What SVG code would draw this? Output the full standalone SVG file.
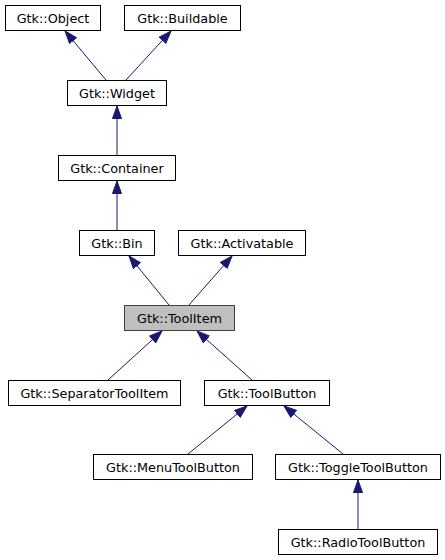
<svg xmlns="http://www.w3.org/2000/svg" width="445" height="560" viewBox="0 0 445 560">
<style>
.n rect{fill:#ffffff;stroke:#000000;stroke-width:1}
.n.cur rect{fill:#bfbfbf;stroke:#404040}
.n text{font-family:"DejaVu Sans",sans-serif;font-size:12.8px;text-anchor:middle;fill:#000000}
.e line{stroke:#191970;stroke-width:1;fill:none;marker-end:url(#ah)}
</style>
<defs>
<marker id="ah" markerUnits="userSpaceOnUse" markerWidth="14" markerHeight="11" refX="13" refY="5.5" orient="auto">
<path d="M0.5,1 L13,5.5 L0.5,10 z" fill="#191970" stroke="#191970" stroke-width="1"/>
</marker>
</defs>
<rect width="445" height="560" fill="#ffffff"/>
<g id="edges" class="e">
<line x1="106" y1="80" x2="65" y2="31"/>
<line x1="126" y1="80" x2="171" y2="31"/>
<line x1="117" y1="155" x2="117" y2="106"/>
<line x1="117" y1="230" x2="117" y2="181"/>
<line x1="169" y1="305" x2="129" y2="256"/>
<line x1="189" y1="305" x2="232" y2="256"/>
<line x1="108" y1="380" x2="162" y2="331"/>
<line x1="252" y1="380" x2="197" y2="331"/>
<line x1="188" y1="454" x2="247" y2="406"/>
<line x1="343" y1="454" x2="284" y2="406"/>
<line x1="358" y1="529" x2="358" y2="480"/>
</g>
<g id="node-object" class="n"><rect x="5.5" y="5.5" width="95" height="25"/><text x="53" y="22.5">Gtk::Object</text></g>
<g id="node-buildable" class="n"><rect x="124.5" y="5.5" width="116" height="25"/><text x="182.5" y="22.5">Gtk::Buildable</text></g>
<g id="node-widget" class="n"><rect x="67.5" y="80.5" width="99" height="25"/><text x="117" y="97.5">Gtk::Widget</text></g>
<g id="node-container" class="n"><rect x="58.5" y="155.5" width="117" height="25"/><text x="117" y="172.5">Gtk::Container</text></g>
<g id="node-bin" class="n"><rect x="79.5" y="230.5" width="75" height="25"/><text x="117" y="247.5">Gtk::Bin</text></g>
<g id="node-activatable" class="n"><rect x="178.5" y="230.5" width="127" height="25"/><text x="242" y="247.5">Gtk::Activatable</text></g>
<g id="node-toolitem" class="n cur"><rect x="124.5" y="305.5" width="110" height="25"/><text x="179.5" y="322.5">Gtk::ToolItem</text></g>
<g id="node-separatortoolitem" class="n"><rect x="8.5" y="380.5" width="172" height="25"/><text x="94.5" y="397.5">Gtk::SeparatorToolItem</text></g>
<g id="node-toolbutton" class="n"><rect x="204.5" y="380.5" width="125" height="25"/><text x="267" y="397.5">Gtk::ToolButton</text></g>
<g id="node-menutoolbutton" class="n"><rect x="93.5" y="454.5" width="159" height="25"/><text x="173" y="471.5">Gtk::MenuToolButton</text></g>
<g id="node-toggletoolbutton" class="n"><rect x="275.5" y="454.5" width="165" height="25"/><text x="358" y="471.5">Gtk::ToggleToolButton</text></g>
<g id="node-radiotoolbutton" class="n"><rect x="278.5" y="529.5" width="159" height="25"/><text x="358" y="546.5">Gtk::RadioToolButton</text></g>
</svg>
